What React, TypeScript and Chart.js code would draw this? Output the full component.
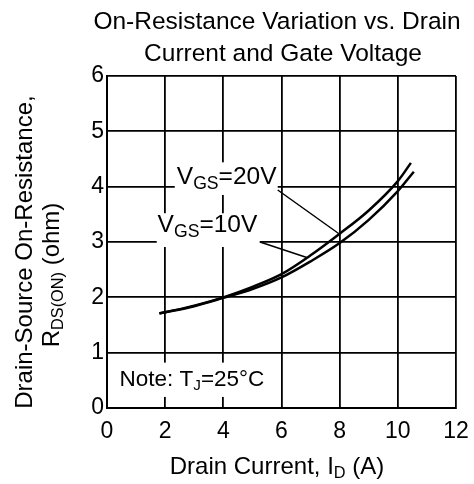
import { useEffect, useRef } from "react";
import { Chart, registerables } from "chart.js";

Chart.register(...registerables);

// ---- data ----
const currentVgs20 = [1.8, 2, 3, 4, 5, 6, 7, 8, 9, 10, 10.45];
const rdsVgs20 = [1.71, 1.73, 1.85, 2.0, 2.19, 2.42, 2.76, 3.15, 3.57, 4.1, 4.43];
const currentVgs10 = [1.8, 2, 3, 4, 5, 6, 7, 8, 9, 10, 10.55];
const rdsVgs10 = [1.71, 1.73, 1.84, 1.99, 2.15, 2.36, 2.65, 2.98, 3.4, 3.92, 4.27];

const xTickValues = [0, 2, 4, 6, 8, 10, 12];
const yTickValues = [0, 1, 2, 3, 4, 5, 6];

const titleLines = ["On-Resistance Variation vs. Drain", "Current and Gate Voltage"];

// annotation anchors in data units
const label20 = { x: 2.4, y: 4.21 };
const label20Box = { x0: 2.33, x1: 5.87, y0: 3.85, y1: 4.44 };
const leader20 = { x0: 5.87, y0: 3.94, x1: 8.0, y1: 3.14 };
const label10 = { x: 1.74, y: 3.34 };
const label10Box = { x0: 1.71, x1: 5.25, y0: 2.91, y1: 3.52 };
const leader10 = { x0: 5.26, y0: 3.0, x1: 6.87, y1: 2.72 };
const noteLabel = { x: 0.43, y: 0.55 };
const noteBox = { x0: 0.04, x1: 5.77, y0: 0.2, y1: 0.82 };

const FONT = '"Liberation Sans", Arial, Helvetica, sans-serif';

type Seg = { t: string; sub?: boolean };

function drawRich(
  ctx: CanvasRenderingContext2D,
  segs: Seg[],
  x: number,
  yCenter: number,
  size: number,
  align: "left" | "center",
  subScale = 0.68
) {
  const parts = segs.map((s) => {
    const fs = s.sub ? size * subScale : size;
    ctx.font = `${fs}px ${FONT}`;
    return { ...s, fs, w: ctx.measureText(s.t).width };
  });
  const total = parts.reduce((a, p) => a + p.w, 0);
  let cx = align === "center" ? x - total / 2 : x;
  const baseline = yCenter + size * 0.36;
  ctx.textAlign = "left";
  ctx.textBaseline = "alphabetic";
  ctx.fillStyle = "#000";
  for (const p of parts) {
    ctx.font = `${p.fs}px ${FONT}`;
    ctx.fillText(p.t, cx, baseline + (p.sub ? size * 0.2 : 0));
    cx += p.w;
  }
}

const annotPlugin = {
  id: "annot",
  afterDraw(chart: any) {
    const { ctx, scales, chartArea } = chart;
    const xs = scales.x;
    const ys = scales.y;
    const px = (v: number) => xs.getPixelForValue(v);
    const py = (v: number) => ys.getPixelForValue(v);
    ctx.save();

    // white boxes behind labels
    ctx.fillStyle = "#fff";
    for (const b of [label20Box, label10Box, noteBox]) {
      ctx.fillRect(px(b.x0), py(b.y1), px(b.x1) - px(b.x0), py(b.y0) - py(b.y1));
    }

    // leader lines
    ctx.strokeStyle = "#000";
    ctx.lineWidth = 1.5;
    for (const l of [leader20, leader10]) {
      ctx.beginPath();
      ctx.moveTo(px(l.x0), py(l.y0));
      ctx.lineTo(px(l.x1), py(l.y1));
      ctx.stroke();
    }

    // labels
    drawRich(ctx, [{ t: "V" }, { t: "GS", sub: true }, { t: "=20V" }], px(label20.x), py(label20.y), 24.5, "left", 0.72);
    drawRich(ctx, [{ t: "V" }, { t: "GS", sub: true }, { t: "=10V" }], px(label10.x), py(label10.y), 24.5, "left", 0.72);
    drawRich(ctx, [{ t: "Note: T" }, { t: "J", sub: true }, { t: "=25°C" }], px(noteLabel.x), py(noteLabel.y), 22.5, "left");

    // title
    drawRich(ctx, [{ t: titleLines[0] }], chartArea.left + 170, 20, 24.5, "center");
    drawRich(ctx, [{ t: titleLines[1] }], chartArea.left + 176, 52, 24.5, "center");

    // x axis title
    drawRich(
      ctx,
      [{ t: "Drain Current, I" }, { t: "D", sub: true }, { t: " (A)" }],
      chartArea.left + 170,
      465,
      24,
      "center"
    );

    // y axis title (two rotated lines)
    const midY = (chartArea.top + chartArea.bottom) / 2;
    ctx.save();
    ctx.translate(23, midY + 10);
    ctx.rotate(-Math.PI / 2);
    drawRich(ctx, [{ t: "Drain-Source On-Resistance," }], 0, 0, 24, "center");
    ctx.restore();
    ctx.save();
    ctx.translate(50, midY + 33);
    ctx.rotate(-Math.PI / 2);
    drawRich(ctx, [{ t: "R" }, { t: "DS(ON)", sub: true }, { t: " (ohm)" }], 0, 0, 24, "center");
    ctx.restore();

    ctx.restore();
  },
};

export default function App() {
  const ref = useRef<HTMLCanvasElement | null>(null);

  useEffect(() => {
    if (!ref.current) return;
    const toPts = (xs: number[], ys: number[]) => xs.map((x, i) => ({ x, y: ys[i] }));
    const chart = new Chart(ref.current, {
      type: "line",
      data: {
        datasets: [
          {
            label: "VGS=20V",
            data: toPts(currentVgs20, rdsVgs20),
            borderColor: "#000",
            borderWidth: 2.5,
            pointRadius: 0,
            fill: false,
            cubicInterpolationMode: "monotone",
          },
          {
            label: "VGS=10V",
            data: toPts(currentVgs10, rdsVgs10),
            borderColor: "#000",
            borderWidth: 2.5,
            pointRadius: 0,
            fill: false,
            cubicInterpolationMode: "monotone",
          },
        ],
      },
      options: {
        responsive: false,
        animation: false,
        events: [],
        layout: { padding: { left: 0, right: 18, top: 76, bottom: 0 } },
        plugins: { legend: { display: false }, tooltip: { enabled: false }, title: { display: false } },
        scales: {
          x: {
            type: "linear",
            min: 0,
            max: 12,
            afterBuildTicks: (s: any) => {
              s.ticks = xTickValues.map((v) => ({ value: v }));
            },
            afterFit: (s: any) => {
              s.height = 76;
              s.paddingLeft = 0;
              s.paddingRight = 0;
            },
            ticks: {
              color: "#000",
              font: { family: FONT, size: 23 },
              padding: 10,
              maxRotation: 0,
              autoSkip: false,
            },
            grid: { color: "#000", lineWidth: 1.8, drawTicks: false },
            border: { color: "#000", width: 2 },
          },
          y: {
            type: "linear",
            min: 0,
            max: 6,
            afterBuildTicks: (s: any) => {
              s.ticks = yTickValues.map((v) => ({ value: v }));
            },
            afterFit: (s: any) => {
              s.width = 107;
              s.paddingTop = 0;
              s.paddingBottom = 0;
            },
            ticks: {
              color: "#000",
              font: { family: FONT, size: 23 },
              padding: 3,
              autoSkip: false,
            },
            grid: { color: "#000", lineWidth: 1.8, drawTicks: false },
            border: { color: "#000", width: 2 },
          },
        },
      },
      plugins: [annotPlugin],
    } as any);
    return () => chart.destroy();
  }, []);

  return (
    <div style={{ position: "absolute", left: 0, top: 0, width: 474, height: 484, background: "#fff" }}>
      <canvas ref={ref} width={474} height={484} style={{ display: "block" }} />
    </div>
  );
}
